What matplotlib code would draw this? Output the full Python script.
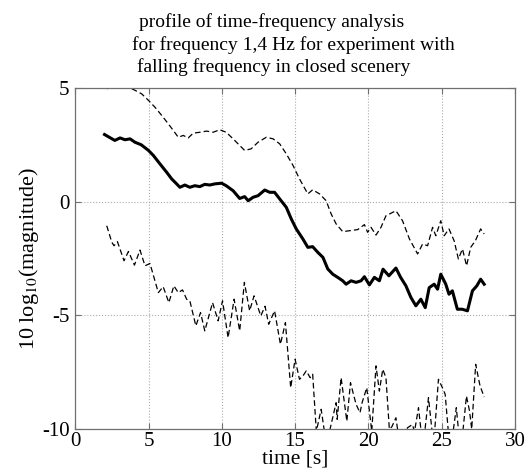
import numpy as np
import matplotlib
matplotlib.use('Agg')
import matplotlib.pyplot as plt

plt.rcParams['font.family'] = ['Liberation Serif', 'DejaVu Serif']
plt.rcParams['mathtext.fontset'] = 'stix'
plt.rcParams['axes.unicode_minus'] = False

### profile values (time in s, 10 log10 magnitude)
t_mid = [2.0, 2.7, 3.06, 3.4, 3.74, 4.08, 4.5, 5.0, 5.33, 5.78, 6.24, 6.58, 6.92, 7.14,
         7.48, 7.82, 8.16, 8.5, 8.84, 9.18, 9.52, 9.98, 10.3, 10.77, 11.22, 11.56, 11.8,
         12.13, 12.47, 12.93, 13.27, 13.6, 13.95, 14.4, 14.74, 15.08, 15.53, 15.87, 16.2,
         16.55, 16.9, 17.23, 17.57, 17.91, 18.25, 18.48, 18.82, 19.16, 19.5, 19.73, 20.07,
         20.41, 20.75, 21.0, 21.4, 21.88, 22.2, 22.56, 22.9, 23.24, 23.58, 23.88, 24.15,
         24.49, 24.72, 24.94, 25.28, 25.5, 25.73, 26.07, 26.4, 26.76, 27.1, 27.4, 27.66, 27.9]
v_mid = [2.95, 2.69, 2.8, 2.72, 2.76, 2.61, 2.5, 2.25, 2.03, 1.66, 1.29, 1.0, 0.78, 0.63,
         0.73, 0.63, 0.70, 0.66, 0.76, 0.73, 0.78, 0.81, 0.70, 0.48, 0.14, 0.22, 0.04,
         0.19, 0.26, 0.51, 0.41, 0.41, 0.12, -0.25, -0.76, -1.2, -1.64, -2.01, -1.98,
         -2.23, -2.45, -2.96, -3.19, -3.33, -3.48, -3.63, -3.48, -3.55, -3.48, -3.3, -3.66,
         -3.33, -3.48, -2.97, -3.26, -2.92, -3.33, -3.7, -4.21, -4.58, -4.29, -4.66, -3.78,
         -3.63, -3.85, -3.19, -3.63, -4.07, -3.92, -4.73, -4.73, -4.8, -3.92, -3.7, -3.41, -3.63]

t_up = [2.15, 2.6, 3.0, 3.5, 3.97, 4.53, 5.0, 5.44, 5.9, 6.35, 6.69, 7.03, 7.37, 7.71,
        8.05, 8.5, 8.96, 9.41, 9.86, 10.3, 10.77, 11.22, 11.56, 12.0, 12.47, 13.04, 13.5,
        13.95, 14.4, 14.86, 15.3, 15.87, 16.2, 16.67, 17.12, 17.46, 17.8, 18.25, 18.7,
        19.27, 19.73, 19.95, 20.18, 20.52, 20.86, 21.2, 21.88, 22.33, 22.8, 23.36, 23.7,
        24.04, 24.38, 24.6, 24.94, 25.17, 25.5, 25.85, 26.14, 26.42, 26.7, 26.98, 27.3,
        27.66, 27.9]
v_up = [4.96, 5.08, 5.12, 5.04, 4.93, 4.74, 4.45, 4.15, 3.79, 3.42, 3.13, 2.83, 2.91, 2.8,
        3.01, 3.05, 3.1, 3.05, 3.16, 3.05, 2.76, 2.47, 2.25, 2.32, 2.61, 2.83, 2.76,
        2.54, 2.1, 1.59, 1.0, 0.34, 0.52, 0.34, 0.04, -0.54, -0.98, -1.32, -1.28,
        -1.23, -1.01, -1.35, -1.13, -1.47, -1.13, -0.62, -0.4, -0.84, -1.64, -2.3, -1.86,
        -1.94, -1.13, -1.5, -0.84, -1.5, -1.2, -1.72, -2.52, -2.08, -2.82, -2.01, -1.72,
        -1.2, -1.42]

t_low = [2.15, 2.5, 2.65, 2.88, 3.33, 3.63, 4.04, 4.42, 4.76, 5.1, 5.67, 6.0, 6.39, 6.73,
         7.03, 7.32, 7.6, 7.82, 8.23, 8.55, 8.84, 9.37, 9.75, 10.05, 10.43, 10.84, 11.22,
         11.54, 11.9, 12.2, 12.66, 12.95, 13.2, 13.6, 14.0, 14.34, 14.7, 15.0, 15.3, 15.53,
         15.76, 16.03, 16.2, 16.45, 16.78, 17.0, 17.15, 17.35, 17.8, 17.87, 18.14, 18.53,
         18.78, 19.16, 19.43, 19.57, 19.89, 20.23, 20.52, 20.75, 20.98, 21.2, 21.43, 21.6,
         21.88, 21.99, 22.2, 22.45, 22.67, 23.0, 23.15, 23.42, 23.58, 23.8, 24.1, 24.33,
         24.5, 24.78, 25.05, 25.24, 25.44, 25.7, 26.0, 26.14, 26.4, 26.69, 26.9, 27.05,
         27.32, 27.55, 27.62, 27.9]
v_low = [-1.06, -1.79, -1.94, -1.76, -2.6, -2.19, -2.79, -2.13, -2.82, -2.72, -4.0, -3.74,
         -4.44, -3.7, -4.0, -3.88, -4.29, -4.36, -5.46, -4.88, -5.68, -4.44, -5.24, -4.36,
         -5.98, -4.29, -5.68, -3.55, -4.8, -4.14, -5.02, -4.6, -5.39, -4.8, -6.27, -5.32,
         -8.18, -6.93, -7.81, -7.67, -7.44, -7.74, -7.59, -10.1, -9.13, -10.1, -10.7, -10.1,
         -8.84, -9.57, -7.74, -9.65, -7.96, -8.91, -9.28, -8.84, -8.18, -10.1, -7.22, -8.33,
         -7.37, -7.74, -10.0, -9.9, -9.5, -10.0, -10.6, -10.3, -9.94, -9.8, -10.1, -9.06,
         -10.0, -10.4, -8.62, -10.0, -10.3, -7.81, -8.18, -8.47, -10.0, -10.5, -9.06, -10.0,
         -10.4, -8.55, -9.2, -10.0, -7.15, -7.89, -8.1, -8.59]

title_lines = ['profile of time-frequency analysis',
               'for frequency 1,4 Hz for experiment with',
               'falling frequency in closed scenery']

### Plot ###
fig = plt.figure(figsize=(5.26, 4.70), dpi=100)
ax = fig.add_axes([0.143, 0.087, 0.836, 0.726])

ax.plot(t_up, v_up, color='k', lw=0.9, ls=(0, (4.5, 2.5)))
ax.plot(t_mid, v_mid, color='k', lw=2.2, ls='-')
ax.plot(t_low, v_low, color='k', lw=0.9, ls=(0, (4.5, 2.5)))

ax.set_xlim(0, 30)
ax.set_ylim(-10, 5)
ax.set_xticks(np.arange(0, 31, 5))
ax.set_yticks(np.arange(-10, 6, 5))
ax.grid(True, ls=':', color='#aaaaaa', lw=0.8)
ax.tick_params(direction='in', top=True, right=True, labelsize=15, length=4,
               color='#707070')
ax.tick_params(axis='x', pad=2)
ax.tick_params(axis='y', pad=4)
for sp in ax.spines.values():
    sp.set_color('#707070')
    sp.set_linewidth(0.9)

ax.set_xlabel('time [s]', fontsize=15.5, labelpad=-1)
ax.set_ylabel(r'10 log$_{10}$(magnitude)', fontsize=16, labelpad=1)

# stacked title, each line on its own centre like the original
fig.text(272/526, 1 - 22/470, title_lines[0], ha='center', va='center', fontsize=14)
fig.text(293/526, 1 - 45/470, title_lines[1], ha='center', va='center', fontsize=14)
fig.text(274/526, 1 - 67/470, title_lines[2], ha='center', va='center', fontsize=14)

fig.savefig('out.png', dpi=100)
